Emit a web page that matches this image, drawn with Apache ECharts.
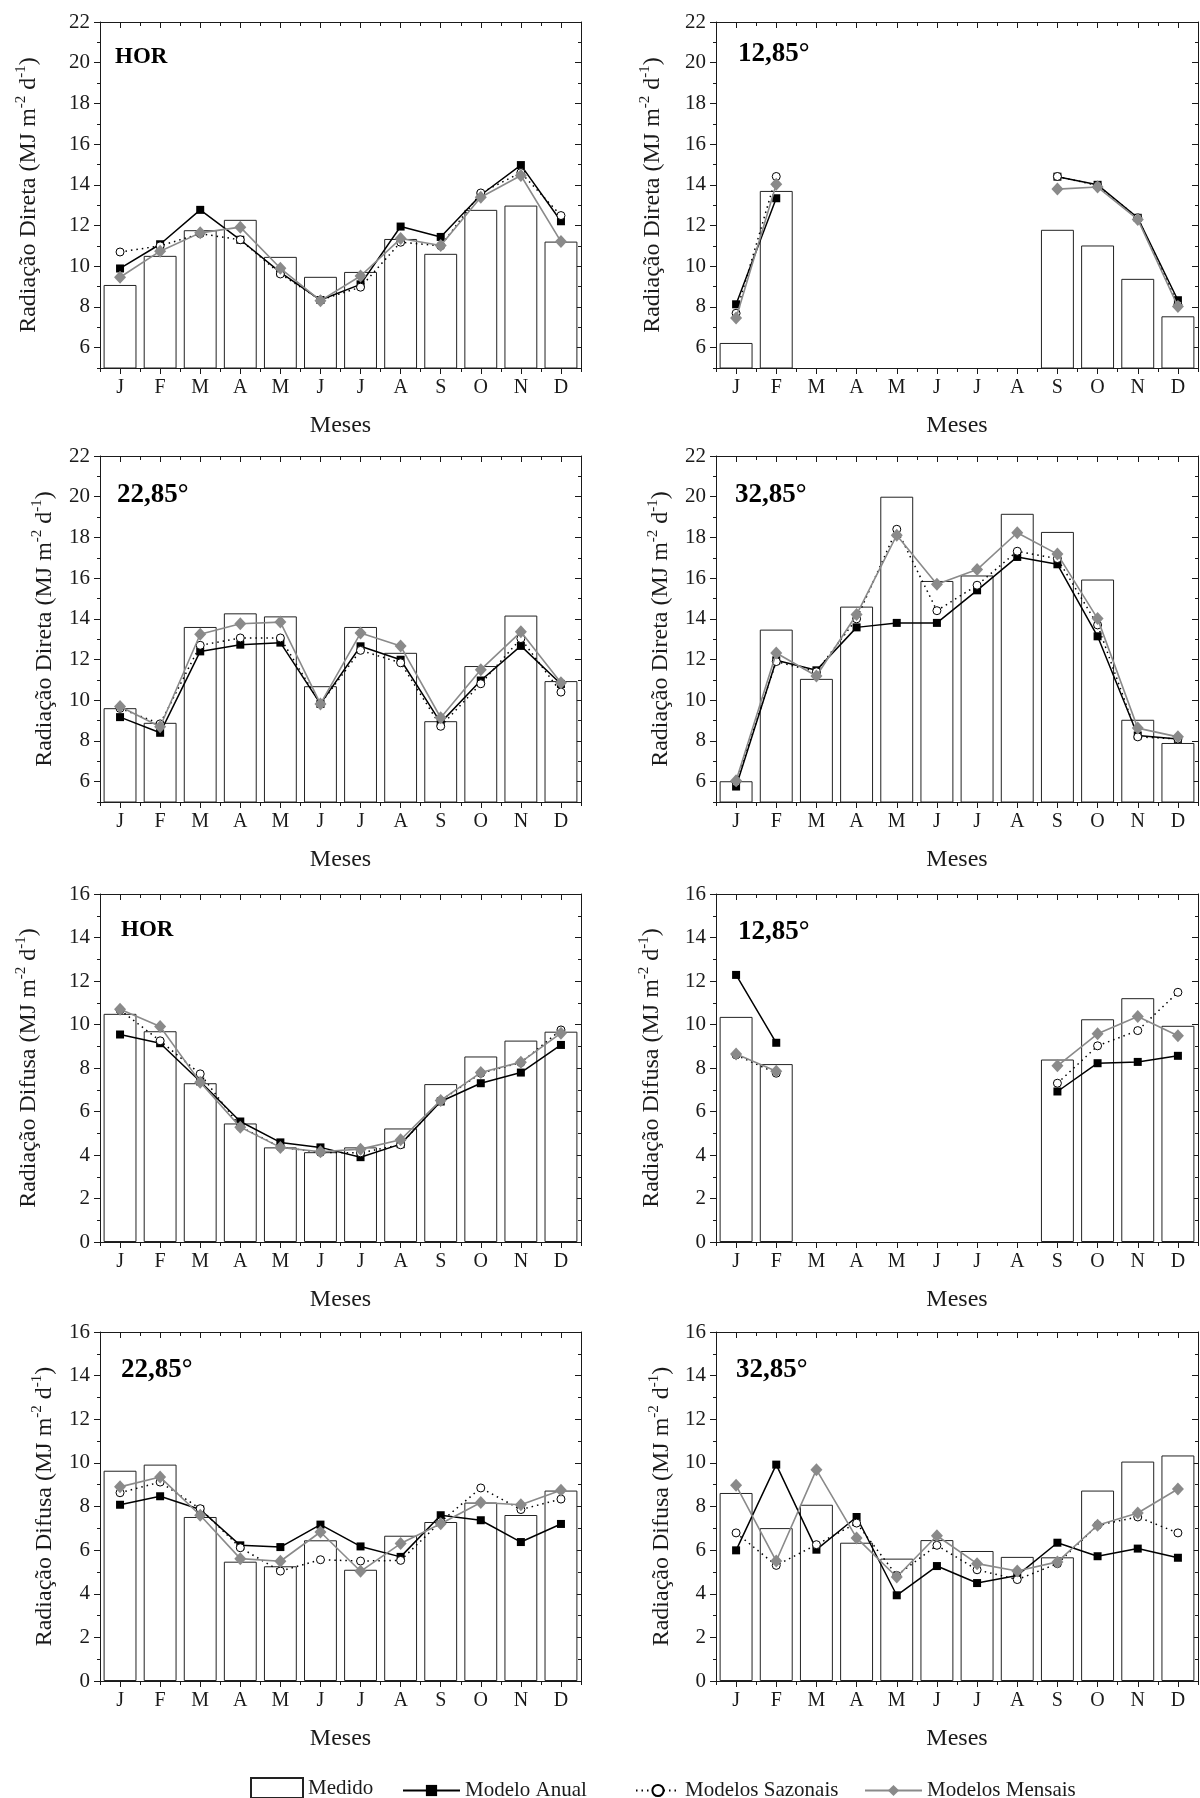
<!DOCTYPE html>
<html><head><meta charset="utf-8">
<script src="https://cdn.jsdelivr.net/npm/echarts@6/dist/echarts.min.js"></script>
<style>html,body{margin:0;padding:0;background:#fff}#c{width:1200px;height:1798px}</style>
</head><body><div id="c"></div>
<script>
// ---------- data ----------
const months = ['J','F','M','A','M','J','J','A','S','O','N','D'];
const dirTicks = [6,8,10,12,14,16,18,20,22];
const difTicks = [0,2,4,6,8,10,12,14,16];

// Radiação Direta - HOR
const dirHorMedido  = [9.08,10.51,11.77,12.28,10.46,9.48,9.72,11.34,10.61,12.77,12.98,11.21];
const dirHorAnual   = [9.89,11.08,12.77,11.3,9.7,8.34,9.11,11.95,11.44,13.5,14.97,12.21];
const dirHorSazonal = [10.7,11.0,11.6,11.3,9.62,8.34,8.97,11.18,11.0,13.6,14.6,12.49];
const dirHorMensal  = [9.46,10.74,11.64,11.92,9.9,8.31,9.52,11.36,11.02,13.39,14.46,11.21];
// Radiação Direta - 12,85°
const dir12Medido  = [6.23,13.7,null,null,null,null,null,null,11.79,11.02,9.38,7.54];
const dir12Anual   = [8.13,13.34,null,null,null,null,null,null,14.4,14.0,12.38,8.33];
const dir12Sazonal = [7.69,14.41,null,null,null,null,null,null,14.41,13.97,12.38,8.11];
const dir12Mensal  = [7.46,14.03,null,null,null,null,null,null,13.79,13.89,12.3,8.02];
// Radiação Direta - 22,85°
const dir22Medido  = [9.61,8.89,13.6,14.27,14.12,10.69,13.6,12.33,8.97,11.68,14.16,10.94];
const dir22Anual   = [9.17,8.4,12.4,12.73,12.83,9.82,12.65,11.99,8.9,10.97,12.67,10.8];
const dir22Sazonal = [9.6,8.84,12.7,13.06,13.06,9.82,12.45,11.84,8.72,10.81,13.03,10.4];
const dir22Mensal  = [9.69,8.7,13.24,13.76,13.84,9.82,13.3,12.66,9.14,11.5,13.36,10.86];
// Radiação Direta - 32,85°
const dir32Medido  = [6.02,13.47,11.05,14.6,20.0,15.86,16.13,19.16,18.27,15.93,9.04,7.9];
const dir32Anual   = [5.76,11.96,11.47,13.58,13.8,13.8,15.4,17.04,16.68,13.14,8.27,8.1];
const dir32Sazonal = [5.97,11.9,11.4,14.0,18.4,14.4,15.65,17.32,16.96,13.7,8.2,8.1];
const dir32Mensal  = [6.05,12.32,11.19,14.21,18.11,15.7,16.42,18.23,17.18,14.01,8.63,8.2];
// Radiação Difusa - HOR
const difHorMedido  = [10.49,9.69,7.3,5.45,4.35,4.13,4.35,5.22,7.26,8.53,9.26,9.67];
const difHorAnual   = [9.54,9.14,7.38,5.54,4.58,4.35,3.9,4.5,6.46,7.3,7.79,9.06];
const difHorSazonal = [10.67,9.25,7.73,5.3,4.36,4.12,4.1,4.47,6.5,7.76,8.25,9.75];
const difHorMensal  = [10.7,9.91,7.35,5.28,4.35,4.15,4.27,4.7,6.51,7.79,8.27,9.6];
// Radiação Difusa - 12,85°
const dif12Medido  = [10.35,8.18,null,null,null,null,null,null,8.39,10.24,11.21,9.94];
const dif12Anual   = [12.28,9.16,null,null,null,null,null,null,6.92,8.22,8.28,8.56];
const dif12Sazonal = [8.6,7.76,null,null,null,null,null,null,7.3,9.02,9.72,11.48];
const dif12Mensal  = [8.64,7.85,null,null,null,null,null,null,8.1,9.57,10.37,9.48];
// Radiação Difusa - 22,85°
const dif22Medido  = [9.64,9.92,7.52,5.47,5.26,6.45,5.1,6.66,7.29,8.18,7.61,8.73];
const dif22Anual   = [8.08,8.47,7.86,6.22,6.14,7.17,6.17,5.69,7.6,7.37,6.37,7.2];
const dif22Sazonal = [8.63,9.12,7.9,6.11,5.04,5.56,5.5,5.53,7.3,8.85,7.86,8.34];
const dif22Mensal  = [8.9,9.35,7.6,5.61,5.49,6.83,5.03,6.3,7.21,8.18,8.08,8.74];
// Radiação Difusa - 32,85°
const dif32Medido  = [8.62,7.01,8.08,6.34,5.61,6.46,5.96,5.69,5.67,8.73,10.06,10.34];
const dif32Anual   = [5.99,9.92,6.02,7.52,3.93,5.27,4.49,4.84,6.34,5.72,6.07,5.65];
const dif32Sazonal = [6.79,5.3,6.25,7.24,4.84,6.22,5.1,4.65,5.38,7.14,7.52,6.79];
const dif32Mensal  = [8.97,5.5,9.69,6.56,4.77,6.66,5.38,5.04,5.46,7.14,7.7,8.8];

const seriesNames = ['Medido','Modelo Anual','Modelos Sazonais','Modelos Mensais'];

// ---------- layout ----------
const FONT = 'Liberation Serif';
const C = '#1a1a1a';
const L = {left:100, width:481}, R = {left:716, width:482};
const rows = [{top:22,height:346},{top:456,height:346},{top:894,height:348},{top:1332,height:349}];

const panels = [
  {col:L,row:0,label:'HOR',lx:115,ly:57,lf:23,kind:'Direta',d:[dirHorMedido,dirHorAnual,dirHorSazonal,dirHorMensal],gap:56},
  {col:R,row:0,label:'12,85°',lx:738,ly:54,lf:27,kind:'Direta',d:[dir12Medido,dir12Anual,dir12Sazonal,dir12Mensal],gap:48},
  {col:L,row:1,label:'22,85°',lx:117,ly:495,lf:27,kind:'Direta',d:[dir22Medido,dir22Anual,dir22Sazonal,dir22Mensal],gap:40},
  {col:R,row:1,label:'32,85°',lx:735,ly:495,lf:27,kind:'Direta',d:[dir32Medido,dir32Anual,dir32Sazonal,dir32Mensal],gap:40},
  {col:L,row:2,label:'HOR',lx:121,ly:930,lf:23,kind:'Difusa',d:[difHorMedido,difHorAnual,difHorSazonal,difHorMensal],gap:56},
  {col:R,row:2,label:'12,85°',lx:738,ly:932,lf:27,kind:'Difusa',d:[dif12Medido,dif12Anual,dif12Sazonal,dif12Mensal],gap:49},
  {col:L,row:3,label:'22,85°',lx:121,ly:1370,lf:27,kind:'Difusa',d:[dif22Medido,dif22Anual,dif22Sazonal,dif22Mensal],gap:40},
  {col:R,row:3,label:'32,85°',lx:736,ly:1370,lf:27,kind:'Difusa',d:[dif32Medido,dif32Anual,dif32Sazonal,dif32Mensal],gap:39}
];

const option = {animation:false, backgroundColor:'#fff', grid:[], xAxis:[], yAxis:[], series:[], graphic:[], legend:[]};

panels.forEach((p,i)=>{
  const rw = rows[p.row];
  option.grid.push({left:p.col.left, top:rw.top, width:p.col.width, height:rw.height, containLabel:false});
  const isDir = p.kind === 'Direta';
  const ymin = isDir ? 5 : 0, ymax = isDir ? 22 : 16;
  const ticks = isDir ? dirTicks : difTicks;
  const xi = option.xAxis.length;
  const lineS = {color:C, width:1};
  const baseX = {type:'category', gridIndex:i, data:months, boundaryGap:true,
    axisLine:{show:true, onZero:false, lineStyle:lineS}, splitLine:{show:false},
    axisLabel:{show:false, interval:0}, axisPointer:{show:false}};
  option.xAxis.push(Object.assign({}, baseX, {position:'bottom',
    axisTick:{show:true, alignWithLabel:true, interval:0, length:6, lineStyle:lineS},
    axisLabel:{show:true, interval:0, fontFamily:FONT, fontSize:20, color:C, margin:10},
    name:'Meses', nameLocation:'middle', nameGap:46,
    nameTextStyle:{fontFamily:FONT, fontSize:24, color:C}}));
  option.xAxis.push(Object.assign({}, baseX, {position:'bottom', axisLine:{show:false, onZero:false},
    axisTick:{show:true, alignWithLabel:false, interval:0, length:4, lineStyle:lineS}}));
  option.xAxis.push(Object.assign({}, baseX, {position:'top',
    axisTick:{show:true, alignWithLabel:true, interval:0, inside:true, length:6, lineStyle:lineS}}));
  option.xAxis.push(Object.assign({}, baseX, {position:'top', axisLine:{show:false, onZero:false},
    axisTick:{show:true, alignWithLabel:false, interval:0, inside:true, length:4, lineStyle:lineS}}));

  const yi = option.yAxis.length;
  const baseY = {type:'value', gridIndex:i, min:ymin, max:ymax, interval:1, splitLine:{show:false},
    axisLine:{show:true, onZero:false, lineStyle:lineS}, axisLabel:{show:false}, axisPointer:{show:false}};
  option.yAxis.push(Object.assign({}, baseY, {position:'left',
    axisTick:{show:true, length:6, customValues:ticks, lineStyle:lineS},
    axisLabel:{show:true, customValues:ticks, fontFamily:FONT, fontSize:21, color:C, margin:10},
    name:'{t|Radiação ' + p.kind + ' (MJ m}{s|-2}{t| d}{s|-1}{t|)}',
    nameLocation:'middle', nameGap:p.gap,
    nameTextStyle:{fontFamily:FONT, fontSize:24, color:C, rich:{
      t:{fontFamily:FONT, fontSize:24, color:C, lineHeight:30},
      s:{fontFamily:FONT, fontSize:15, color:C, lineHeight:15, verticalAlign:'top'}}}}));
  option.yAxis.push(Object.assign({}, baseY, {position:'left', axisLine:{show:false, onZero:false},
    axisTick:{show:true, length:3, lineStyle:lineS}}));
  option.yAxis.push(Object.assign({}, baseY, {position:'right',
    axisTick:{show:true, inside:true, length:6, customValues:ticks, lineStyle:lineS}}));
  option.yAxis.push(Object.assign({}, baseY, {position:'right', axisLine:{show:false, onZero:false},
    axisTick:{show:true, inside:true, length:3, lineStyle:lineS}}));

  option.series.push({type:'bar', name:seriesNames[0], xAxisIndex:xi, yAxisIndex:yi, data:p.d[0],
    barWidth:'82%', silent:true, z:1,
    itemStyle:{color:'#ffffff', borderColor:'#222', borderWidth:1}});
  option.series.push({type:'line', name:seriesNames[1], xAxisIndex:xi, yAxisIndex:yi, data:p.d[1],
    symbol:'rect', symbolSize:8, showAllSymbol:true, silent:true, z:3,
    lineStyle:{color:'#000', width:1.5}, itemStyle:{color:'#000'}});
  option.series.push({type:'line', name:seriesNames[2], xAxisIndex:xi, yAxisIndex:yi, data:p.d[2],
    symbol:'circle', symbolSize:8, showAllSymbol:true, silent:true, z:4,
    lineStyle:{color:'#000', width:1.5, type:[1.5,4]}, itemStyle:{color:'#fff', borderColor:'#000', borderWidth:1}});
  option.series.push({type:'line', name:seriesNames[3], xAxisIndex:xi, yAxisIndex:yi, data:p.d[3],
    symbol:'diamond', symbolSize:[12,13], showAllSymbol:true, silent:true, z:5,
    lineStyle:{color:'#8a8a8a', width:1.6}, itemStyle:{color:'#8a8a8a'}});

  option.graphic.push({type:'text', x:p.lx, y:p.ly, silent:true,
    style:{text:p.label, font:'bold ' + p.lf + 'px "' + FONT + '"', fill:'#000',
      textVerticalAlign:'middle', verticalAlign:'middle', textAlign:'left', align:'left'}});
});

const legText = {fontFamily:FONT, fontSize:21, color:C};
option.legend = [
  {data:[{name:'Medido', icon:'rect'}], left:250, top:1777, itemWidth:52, itemHeight:20, itemGap:5, padding:0, selectedMode:false, textStyle:legText},
  {data:['Modelo Anual'], left:402, top:1780, itemWidth:57, itemHeight:14, padding:0, selectedMode:false, textStyle:legText},
  {data:['Modelos Sazonais'], left:635, top:1780, itemWidth:44, itemHeight:14, padding:0, selectedMode:false, textStyle:legText},
  {data:['Modelos Mensais'], left:864, top:1780, itemWidth:57, itemHeight:14, padding:0, selectedMode:false, textStyle:legText}
];

const chart = echarts.init(document.getElementById('c'), null, {renderer:'canvas'});
chart.setOption(option);
</script>
</body></html>
